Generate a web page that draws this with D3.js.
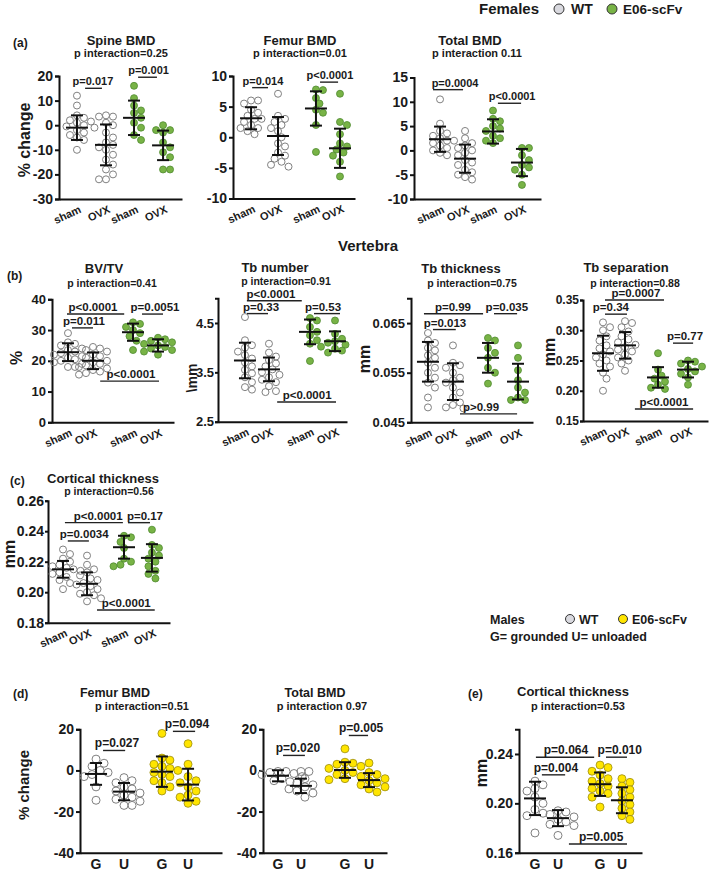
<!DOCTYPE html>
<html><head><meta charset="utf-8">
<script src="https://cdn.jsdelivr.net/npm/d3@7"></script>
<style>
body{margin:0;background:#fff}
svg{display:block}
text{font-family:"Liberation Sans",Arial,Helvetica,sans-serif;font-weight:bold;fill:#1a1a1a}
</style>
</head><body>
<svg id="chart" width="709" height="874"></svg>
<script>
// ---------------- DATA ----------------
const femaleGroups = ["WT sham", "WT OVX", "E06-scFv sham", "E06-scFv OVX"];
const maleGroups = ["WT G", "WT U", "E06-scFv G", "E06-scFv U"];
const femaleXLabels = ["sham", "OVX", "sham", "OVX"];
const maleXLabels = ["G", "U", "G", "U"];

// (a) Spine BMD, % change
const spineBMD = [
  [12, 8, 4, 3, 2, 1.5, 1, 0, -0.5, -1, -2, -3, -4, -5, -6, -10],
  [4, 3.5, 3.5, 1, 0, -3, -5, -7, -8, -9, -10, -12, -14, -16, -18, -20, -22, -22],
  [16, 11, 8, 6, 5, 3, 1, -1, -4, -6],
  [0, -2, -2, -3, -7, -9, -11, -13, -18, -18]
];
const spineMean = [-1, -8, 3, -8.2];
const spineSD = [5, 8.3, 7, 6];
const spineTicks = [-30, -20, -10, 0, 10, 20];

// (a) Femur BMD, % change
const femurBMD = [
  [6, 6, 5.5, 4.5, 4, 3.5, 3, 3, 2.5, 2, 1.5, 1.5, 1, 0.5],
  [7.1, 3.5, 3, 2.5, 2, 1.5, 1, 0, -1, -1.5, -2.5, -3, -3.5, -4, -4.5, -4.8],
  [7.8, 7.7, 6.4, 5.5, 4.5, 4, 2, -2.4],
  [7.1, 2.5, 2, 0.5, -1, -1.5, -2, -2.5, -3, -4, -6.4]
];
const femurMean = [3.1, 0.2, 4.7, -1.8];
const femurSD = [1.8, 3.1, 2.8, 3.2];
const femurTicks = [-10, -5, 0, 5, 10];

// (a) Total BMD, % change
const totalBMD = [
  [10.5, 5.5, 4, 3.5, 3, 2.5, 2, 2, 1.5, 1, 0.5, 0, -0.5, -1],
  [4, 2.5, 1.5, 1, 0.5, 0, -0.5, -1, -2, -2.5, -3, -4, -4.5, -5, -5.5, -6],
  [8.2, 6.5, 6, 5, 4.5, 4, 3, 2.5, 2, 1.5],
  [0.5, 0.5, -1, -2, -3, -3.5, -4, -5, -7.1]
];
const totalMean = [2.3, -1.7, 3.9, -2.5];
const totalSD = [2.6, 2.9, 2.5, 2.8];
const totalTicks = [-10, -5, 0, 5, 10, 15];

// (b) Vertebra BV/TV, %
const bvtv = [
  [29, 26, 25.5, 25, 24, 23.5, 23, 22.5, 22, 21.5, 21, 20.5, 20, 19.5, 19, 18, 18],
  [24.5, 24, 23.5, 23, 22, 21.5, 21, 20, 19.5, 19, 18.5, 18, 17.5, 17, 16.5, 16, 15.5],
  [32.5, 32, 31, 30, 29, 28, 26.5, 23.5],
  [27.5, 27, 26.5, 26, 25.5, 25, 24.5, 24, 23.5, 23, 22]
];
const bvtvMean = [22.8, 20, 29.3, 25];
const bvtvSD = [2.9, 2.7, 2.8, 2];
const bvtvTicks = [0, 10, 20, 30, 40];

// (b) Tb number, /mm
const tbNumber = [
  [4.62, 4.15, 4.05, 4.0, 3.92, 3.85, 3.78, 3.7, 3.62, 3.55, 3.48, 3.4, 3.3, 3.2, 3.15],
  [4.08, 3.9, 3.82, 3.75, 3.68, 3.62, 3.56, 3.5, 3.45, 3.4, 3.35, 3.3, 3.22, 3.12, 3.1],
  [4.6, 4.55, 4.42, 4.32, 4.25, 4.15, 4.08, 3.73],
  [4.55, 4.28, 4.18, 4.13, 4.1, 4.06, 4.02, 3.98, 3.94, 3.9]
];
const tbNumberMean = [3.74, 3.56, 4.32, 4.13];
const tbNumberSD = [0.36, 0.24, 0.25, 0.2];
const tbNumberTicks = [2.5, 3.5, 4.5];

// (b) Tb thickness, mm
const tbThickness = [
  [0.063, 0.0615, 0.061, 0.060, 0.0595, 0.0585, 0.058, 0.057, 0.056, 0.055, 0.054, 0.053, 0.052, 0.050, 0.048],
  [0.0605, 0.057, 0.0565, 0.056, 0.055, 0.054, 0.0535, 0.053, 0.052, 0.051, 0.050, 0.049, 0.0485, 0.048, 0.0478],
  [0.062, 0.0615, 0.060, 0.059, 0.058, 0.056, 0.055, 0.0528],
  [0.0605, 0.058, 0.0555, 0.0535, 0.052, 0.051, 0.050, 0.0495, 0.0495]
];
const tbThicknessMean = [0.0572, 0.0532, 0.058, 0.0532];
const tbThicknessSD = [0.004, 0.0037, 0.003, 0.0036];
const tbThicknessTicks = [0.045, 0.055, 0.065];

// (b) Tb separation, mm
const tbSeparation = [
  [0.313, 0.305, 0.30, 0.29, 0.283, 0.275, 0.27, 0.265, 0.26, 0.255, 0.25, 0.245, 0.24, 0.23, 0.22, 0.20],
  [0.315, 0.312, 0.305, 0.298, 0.29, 0.285, 0.28, 0.276, 0.272, 0.268, 0.265, 0.26, 0.255, 0.25, 0.245, 0.233],
  [0.262, 0.235, 0.225, 0.22, 0.215, 0.21, 0.205, 0.203],
  [0.25, 0.248, 0.245, 0.24, 0.236, 0.232, 0.228, 0.222, 0.21]
];
const tbSeparationMean = [0.262, 0.275, 0.222, 0.235];
const tbSeparationSD = [0.029, 0.022, 0.017, 0.013];
const tbSeparationTicks = [0.15, 0.20, 0.25, 0.30, 0.35];

// (c) Cortical thickness (females), mm
const cortF = [
  [0.228, 0.225, 0.222, 0.22, 0.218, 0.217, 0.216, 0.215, 0.214, 0.213, 0.212, 0.21, 0.208, 0.206, 0.202],
  [0.224, 0.218, 0.215, 0.213, 0.211, 0.209, 0.208, 0.206, 0.205, 0.204, 0.202, 0.2, 0.199, 0.198, 0.196, 0.194],
  [0.237, 0.236, 0.233, 0.229, 0.222, 0.22, 0.218, 0.217],
  [0.241, 0.231, 0.229, 0.226, 0.224, 0.222, 0.22, 0.217, 0.214, 0.212, 0.209]
];
const cortFMean = [0.215, 0.2055, 0.2295, 0.2225];
const cortFSD = [0.0055, 0.0075, 0.0075, 0.009];
const cortFTicks = [0.18, 0.20, 0.22, 0.24, 0.26];

// (d) Males Femur BMD, % change
const mFemurBMD = [
  [5.5, 3.5, 2, 0, -1, -2, -3, -8, -14.5],
  [-3.5, -5, -6, -8, -9, -10, -11, -12, -13, -14, -15, -17, -17],
  [18, 6, 5, 3, 2, 1, 0, -1, -2, -3, -5, -6, -8, -10],
  [13, 3, -3, -5, -6, -8, -10, -12, -13, -15, -16]
];
const mFemurMean = [-1.7, -10.3, -0.6, -6.9];
const mFemurSD = [5.3, 4.2, 7.4, 7.7];

// (d) Males Total BMD, % change
const mTotalBMD = [
  [-0.5, -0.5, -1, -1.5, -2, -3, -4, -5, -5.5],
  [-0.5, -0.5, -4, -6, -7, -8, -9, -10, -11, -13],
  [10.5, 4, 3.5, 3, 2, 1, 0, -1, -2, -3, -4, -4.5],
  [3.6, -1, -2, -3, -4, -5, -6, -7, -8, -9, -10.5]
];
const mTotalMean = [-2.6, -7.5, 0.2, -4.7];
const mTotalSD = [2.7, 3.5, 3.8, 3.4];
const maleBMDTicks = [-40, -20, 0, 20];

// (e) Males Cortical thickness, mm
const cortM = [
  [0.218, 0.215, 0.212, 0.21, 0.205, 0.2, 0.195, 0.192, 0.19, 0.176],
  [0.194, 0.193, 0.191, 0.189, 0.187, 0.185, 0.183, 0.182, 0.174],
  [0.231, 0.229, 0.226, 0.223, 0.22, 0.218, 0.216, 0.214, 0.212, 0.21, 0.208, 0.205, 0.197],
  [0.22, 0.217, 0.214, 0.211, 0.208, 0.205, 0.202, 0.199, 0.196, 0.193, 0.19, 0.187]
];
const cortMMean = [0.204, 0.188, 0.2155, 0.2025];
const cortMSD = [0.0135, 0.0065, 0.0095, 0.0105];
const cortMTicks = [0.16, 0.20, 0.24];

// ---------------- STYLE ----------------
const COL = {
  wt: {fill: "none", stroke: "#808080", sw: 1},
  green: {fill: "#78b346", stroke: "#4f8a30", sw: 0.8},
  yellow: {fill: "#ffe500", stroke: "#9b8c10", sw: 0.8}
};
const svg = d3.select("#chart");
const intFmt = d => String(d);

function swarm(vals, cx, y, r) {
  const sorted = vals.slice().sort((a, b) => b - a);
  const placed = [];
  return sorted.map(v => {
    const py = y(v);
    let dx = 0;
    for (let k = 0; k < 24; k++) {
      const off = (k % 2 ? 1 : -1) * Math.ceil(k / 2) * r * 1.0;
      if (placed.every(p => (p.x - off) ** 2 + (p.y - py) ** 2 >= (r * 1.85) ** 2)) { dx = off; break; }
    }
    placed.push({x: dx, y: py});
    return {v, x: cx + dx, y: py};
  });
}

function panel(c) {
  const g = svg.append("g");
  const y = d3.scaleLinear().domain(c.domain).range([c.bottom, c.top]);
  const x = d3.scaleLinear().domain([0, 1, 2, 3])
    .range(c.gfrac.map(f => c.left + f * (c.right - c.left)));
  const xf = d3.scaleLinear().domain([0, 1]).range([c.left, c.right]);

  // axes
  const ya = g.append("g").attr("transform", `translate(${c.left},0)`)
    .call(d3.axisLeft(y).tickValues(c.ticks).tickSize(c.tickLen || 4).tickPadding(c.tickPad == null ? 2 : c.tickPad).tickFormat(c.fmt));
  ya.selectAll("path,line").attr("stroke", "#111").attr("stroke-width", 2);
  ya.selectAll("text").style("font-size", c.tickFs + "px").attr("fill", "#1a1a1a")
    .style("font-family", '"Liberation Sans",Arial,sans-serif').style("font-weight", "bold");
  const xa = g.append("g").attr("transform", `translate(0,${c.bottom})`)
    .call(d3.axisBottom(xf).tickValues([]).tickSizeOuter(0));
  xa.select(".domain").attr("stroke", "#111").attr("stroke-width", 2);

  // points
  const cols = c.male ? [COL.wt, COL.wt, COL.yellow, COL.yellow] : [COL.wt, COL.wt, COL.green, COL.green];
  c.vals.forEach((vals, i) => {
    const pts = swarm(vals, x(i), y, c.r);
    g.append("g").selectAll("circle").data(pts).join("circle")
      .attr("cx", d => d.x).attr("cy", d => d.y).attr("r", c.r)
      .attr("fill", cols[i].fill).attr("stroke", cols[i].stroke).attr("stroke-width", cols[i].sw);
  });

  // mean ± SD
  c.mean.forEach((m, i) => {
    const cx = x(i), s = c.sd[i];
    const eb = g.append("g").attr("stroke", "#111").attr("stroke-width", 2);
    eb.append("line").attr("x1", cx).attr("x2", cx).attr("y1", y(m + s)).attr("y2", y(m - s));
    eb.append("line").attr("x1", cx - 6).attr("x2", cx + 6).attr("y1", y(m + s)).attr("y2", y(m + s));
    eb.append("line").attr("x1", cx - 6).attr("x2", cx + 6).attr("y1", y(m - s)).attr("y2", y(m - s));
    eb.append("line").attr("x1", cx - 11).attr("x2", cx + 11).attr("y1", y(m)).attr("y2", y(m));
  });

  // p-value annotations
  c.ann.forEach(a => {
    g.append("line").attr("x1", x(a.x1)).attr("x2", x(a.x2)).attr("y1", y(a.y)).attr("y2", y(a.y))
      .attr("stroke", "#222").attr("stroke-width", 1.4);
    g.append("text").attr("x", x(a.tx)).attr("y", y(a.y) - 3).attr("text-anchor", "middle")
      .style("font-size", c.annFs + "px").text(a.t);
  });

  // x labels
  c.xlabels.forEach((t, i) => {
    if (c.male) {
      g.append("text").attr("x", x(i)).attr("y", c.bottom + 16).attr("text-anchor", "middle")
        .style("font-size", "14px").text(t);
    } else {
      const lx = x(i) + 5, ly = c.bottom + 13;
      g.append("text").attr("transform", `translate(${lx},${ly}) rotate(-25)`)
        .attr("text-anchor", "end").style("font-size", "11px").text(t);
    }
  });

  // titles
  if (c.title) g.append("text").attr("x", c.title[1]).attr("y", c.title[2]).attr("text-anchor", "middle")
    .style("font-size", c.title[3] + "px").text(c.title[0]);
  if (c.sub) g.append("text").attr("x", c.sub[1]).attr("y", c.sub[2]).attr("text-anchor", "middle")
    .style("font-size", (c.subFs || 11) + "px").text(c.sub[0]);
  if (c.ylab) g.append("text").attr("transform", `translate(${c.ylab[1]},${c.ylab[2]}) rotate(-90)`)
    .attr("text-anchor", "middle").style("font-size", c.ylab[3] + "px").text(c.ylab[0]);
}

const f2 = d3.format(".2f"), f3 = d3.format(".3f"), f1 = d3.format(".1f");

// ---------------- PANELS (layout) ----------------
panel({vals: spineBMD, mean: spineMean, sd: spineSD, domain: [-30, 20], ticks: spineTicks, fmt: intFmt, tickFs: 14,
  left: 59, right: 182, top: 76, bottom: 199, gfrac: [0.146, 0.382, 0.61, 0.846], r: 3.5, annFs: 11,
  xlabels: femaleXLabels, title: ["Spine BMD", 121, 45, 13], sub: ["p interaction=0.25", 121, 57],
  ylab: ["% change", 30, 140, 16],
  ann: [{t: "p=0.017", tx: 0.55, x1: 0.28, x2: 0.86, y: 15}, {t: "p=0.001", tx: 2.5, x1: 2.14, x2: 2.79, y: 19.5}]});

panel({vals: femurBMD, mean: femurMean, sd: femurSD, domain: [-10, 10], ticks: femurTicks, fmt: intFmt, tickFs: 14,
  left: 233, right: 355, top: 76, bottom: 198.5, gfrac: [0.148, 0.369, 0.68, 0.877], r: 3.5, annFs: 11,
  xlabels: femaleXLabels, title: ["Femur BMD", 300, 45, 13], sub: ["p interaction=0.01", 300, 57],
  ann: [{t: "p=0.014", tx: 0.44, x1: 0.04, x2: 0.63, y: 8.1}, {t: "p<0.0001", tx: 2.58, x1: 2.17, x2: 2.92, y: 9.0}]});

panel({vals: totalBMD, mean: totalMean, sd: totalSD, domain: [-10, 15], ticks: totalTicks, fmt: intFmt, tickFs: 14,
  left: 414, right: 541, top: 77.5, bottom: 199, gfrac: [0.205, 0.402, 0.622, 0.85], r: 3.5, annFs: 11,
  xlabels: femaleXLabels, title: ["Total BMD", 470, 45, 13], sub: ["p interaction 0.11", 477, 57],
  ann: [{t: "p=0.0004", tx: 0.6, x1: -0.28, x2: 0.92, y: 12.5}, {t: "p<0.0001", tx: 2.66, x1: 2.17, x2: 2.97, y: 9.7}]});

panel({vals: bvtv, mean: bvtvMean, sd: bvtvSD, domain: [0, 40], ticks: bvtvTicks, fmt: intFmt, tickFs: 13,
  left: 52, right: 174, top: 299.3, bottom: 422.3, gfrac: [0.131, 0.336, 0.664, 0.869], r: 3.5, annFs: 11.5,
  xlabels: femaleXLabels, title: ["BV/TV", 104, 273, 13], sub: ["p interaction=0.41", 112, 286.5], subFs: 10.5,
  ylab: ["%", 22, 358, 16],
  ann: [{t: "p<0.0001", tx: 1.0, x1: -0.04, x2: 1.78, y: 35.2}, {t: "p=0.011", tx: 0.64, x1: 0.16, x2: 1.0, y: 30.7},
        {t: "p=0.0051", tx: 2.88, x1: 2.36, x2: 3.2, y: 35.2}, {t: "p<0.0001", tx: 1.95, x1: 1.18, x2: 3.04, y: 13.4}]});

panel({vals: tbNumber, mean: tbNumberMean, sd: tbNumberSD, domain: [2.5, 5.0], ticks: tbNumberTicks, fmt: f1, tickFs: 13,
  tickLen: 3, tickPad: 1,
  left: 218, right: 347, top: 298.3, bottom: 421.7, gfrac: [0.209, 0.395, 0.713, 0.907], r: 3.5, annFs: 11.5,
  xlabels: femaleXLabels, title: ["Tb number", 275, 272, 13], sub: ["p interaction=0.91", 286, 285], subFs: 10.5,
  ylab: ["\\mm", 197, 378, 14],
  ann: [{t: "p<0.0001", tx: 1.05, x1: 0.08, x2: 1.8, y: 4.95}, {t: "p=0.33", tx: 0.67, x1: 0.08, x2: 0.96, y: 4.69},
        {t: "p=0.53", tx: 2.52, x1: 2.16, x2: 3.2, y: 4.69}, {t: "p<0.0001", tx: 1.93, x1: 1.2, x2: 3.04, y: 2.9}]});

panel({vals: tbThickness, mean: tbThicknessMean, sd: tbThicknessSD, domain: [0.045, 0.070], ticks: tbThicknessTicks, fmt: f3, tickFs: 13,
  left: 411, right: 533, top: 298.3, bottom: 422.3, gfrac: [0.139, 0.344, 0.631, 0.877], r: 3.5, annFs: 11.5,
  xlabels: femaleXLabels, title: ["Tb thickness", 461, 273, 13], sub: ["p interaction=0.75", 472, 286.5], subFs: 10.5,
  ylab: ["mm", 370, 359, 16],
  ann: [{t: "p=0.99", tx: 1.0, x1: -0.16, x2: 1.86, y: 0.0669}, {t: "p=0.013", tx: 0.68, x1: 0.2, x2: 1.08, y: 0.0637},
        {t: "p=0.035", tx: 2.63, x1: 2.2, x2: 2.97, y: 0.0669}, {t: "p>0.99", tx: 1.8, x1: 1.2, x2: 2.97, y: 0.0467}]});

panel({vals: tbSeparation, mean: tbSeparationMean, sd: tbSeparationSD, domain: [0.15, 0.35], ticks: tbSeparationTicks, fmt: f2, tickFs: 12,
  tickLen: 3, tickPad: 1,
  left: 583, right: 708, top: 300, bottom: 421, gfrac: [0.16, 0.336, 0.6, 0.84], r: 3.5, annFs: 11.5,
  xlabels: femaleXLabels, title: ["Tb separation", 626, 272, 13], sub: ["p interaction=0.88", 635, 286.5], subFs: 10.5,
  ylab: ["mm", 555, 352, 16],
  ann: [{t: "p=0.0007", tx: 1.33, x1: 0.09, x2: 2.2, y: 0.35}, {t: "p=0.34", tx: 0.36, x1: 0.09, x2: 1.06, y: 0.3266},
        {t: "p=0.77", tx: 2.9, x1: 2.5, x2: 3.17, y: 0.2787}, {t: "p<0.0001", tx: 2.2, x1: 1.3, x2: 3.17, y: 0.1698}]});

panel({vals: cortF, mean: cortFMean, sd: cortFSD, domain: [0.18, 0.26], ticks: cortFTicks, fmt: f2, tickFs: 14,
  tickLen: 3, tickPad: 1,
  left: 48, right: 170, top: 500.7, bottom: 622.7, gfrac: [0.123, 0.32, 0.623, 0.852], r: 3.5, annFs: 11.5,
  xlabels: femaleXLabels, title: ["Cortical thickness", 103, 483, 13], sub: ["p interaction=0.56", 109, 495], subFs: 10.5,
  ylab: ["mm", 15, 554, 16],
  ann: [{t: "p<0.0001", tx: 1.3, x1: 0.08, x2: 1.97, y: 0.2456}, {t: "p=0.0034", tx: 0.88, x1: 0.2, x2: 1.05, y: 0.2336},
        {t: "p=0.17", tx: 2.75, x1: 2.14, x2: 2.93, y: 0.2456}, {t: "p<0.0001", tx: 2.08, x1: 1.27, x2: 3.1, y: 0.1883}]});

panel({vals: mFemurBMD, mean: mFemurMean, sd: mFemurSD, domain: [-40, 20], ticks: maleBMDTicks, fmt: intFmt, tickFs: 14,
  left: 80, right: 222, top: 729.3, bottom: 852.7, gfrac: [0.113, 0.31, 0.577, 0.761], r: 4, annFs: 12, male: true,
  xlabels: maleXLabels, title: ["Femur BMD", 115, 697, 12.5], sub: ["p interaction=0.51", 142, 710],
  ylab: ["% change", 29, 785, 15],
  ann: [{t: "p=0.027", tx: 0.75, x1: 0.25, x2: 1.03, y: 9.7}, {t: "p=0.094", tx: 2.96, x1: 2.42, x2: 3.27, y: 19.0}]});

panel({vals: mTotalBMD, mean: mTotalMean, sd: mTotalSD, domain: [-40, 20], ticks: maleBMDTicks, fmt: intFmt, tickFs: 14,
  left: 263, right: 387, top: 729.3, bottom: 852.7, gfrac: [0.121, 0.306, 0.661, 0.855], r: 4, annFs: 12, male: true,
  xlabels: maleXLabels, title: ["Total BMD", 315, 697, 12.5], sub: ["p interaction 0.97", 322, 710],
  ann: [{t: "p=0.020", tx: 0.87, x1: 0.22, x2: 1.09, y: 7.3}, {t: "p=0.005", tx: 2.67, x1: 2.16, x2: 2.96, y: 17.0}]});

panel({vals: cortM, mean: cortMMean, sd: cortMSD, domain: [0.16, 0.26], ticks: cortMTicks, fmt: f2, tickFs: 14,
  left: 519, right: 642, top: 729.3, bottom: 852.7, gfrac: [0.13, 0.317, 0.659, 0.837], r: 4, annFs: 12, male: true,
  xlabels: maleXLabels, title: ["Cortical thickness", 573, 696, 13], sub: ["p interaction=0.53", 578, 710],
  ylab: ["mm", 487, 773, 16],
  ann: [{t: "p=0.064", tx: 1.19, x1: 0.04, x2: 1.86, y: 0.2374}, {t: "p=0.004", tx: 0.91, x1: 0.3, x2: 1.17, y: 0.2231},
        {t: "p=0.010", tx: 2.9, x1: 2.27, x2: 3.23, y: 0.2374}, {t: "p=0.005", tx: 2.05, x1: 1.26, x2: 3.23, y: 0.167}]});

// ---------------- LABELS & LEGENDS ----------------
function txt(t, x, y, fs, anchor) {
  svg.append("text").attr("x", x).attr("y", y).attr("text-anchor", anchor || "start")
    .style("font-size", fs + "px").text(t);
}
txt("(a)", 13, 47, 12);
txt("(b)", 7, 280, 12);
txt("(c)", 10, 485, 12);
txt("(d)", 13, 698, 12);
txt("(e)", 468, 698, 12);
txt("Vertebra", 368, 251, 15, "middle");

// Females legend
txt("Females", 479, 14, 15);
svg.append("circle").attr("cx", 559).attr("cy", 9).attr("r", 5).attr("fill", "#d9d9df").attr("stroke", "#333").attr("stroke-width", 1);
txt("WT", 571, 14, 14);
svg.append("circle").attr("cx", 612).attr("cy", 9).attr("r", 5).attr("fill", COL.green.fill).attr("stroke", "#333").attr("stroke-width", 1);
txt("E06-scFv", 623, 14, 13.5);

// Males legend
txt("Males", 490, 624, 12.5);
svg.append("circle").attr("cx", 570).attr("cy", 619).attr("r", 4.5).attr("fill", "#d9d9df").attr("stroke", "#333").attr("stroke-width", 1);
txt("WT", 579, 624, 12.5);
svg.append("circle").attr("cx", 623).attr("cy", 619).attr("r", 4.5).attr("fill", COL.yellow.fill).attr("stroke", "#333").attr("stroke-width", 1);
txt("E06-scFv", 632, 624, 12.5);
txt("G= grounded U= unloaded", 490, 641, 12.5);
</script>
</body></html>
